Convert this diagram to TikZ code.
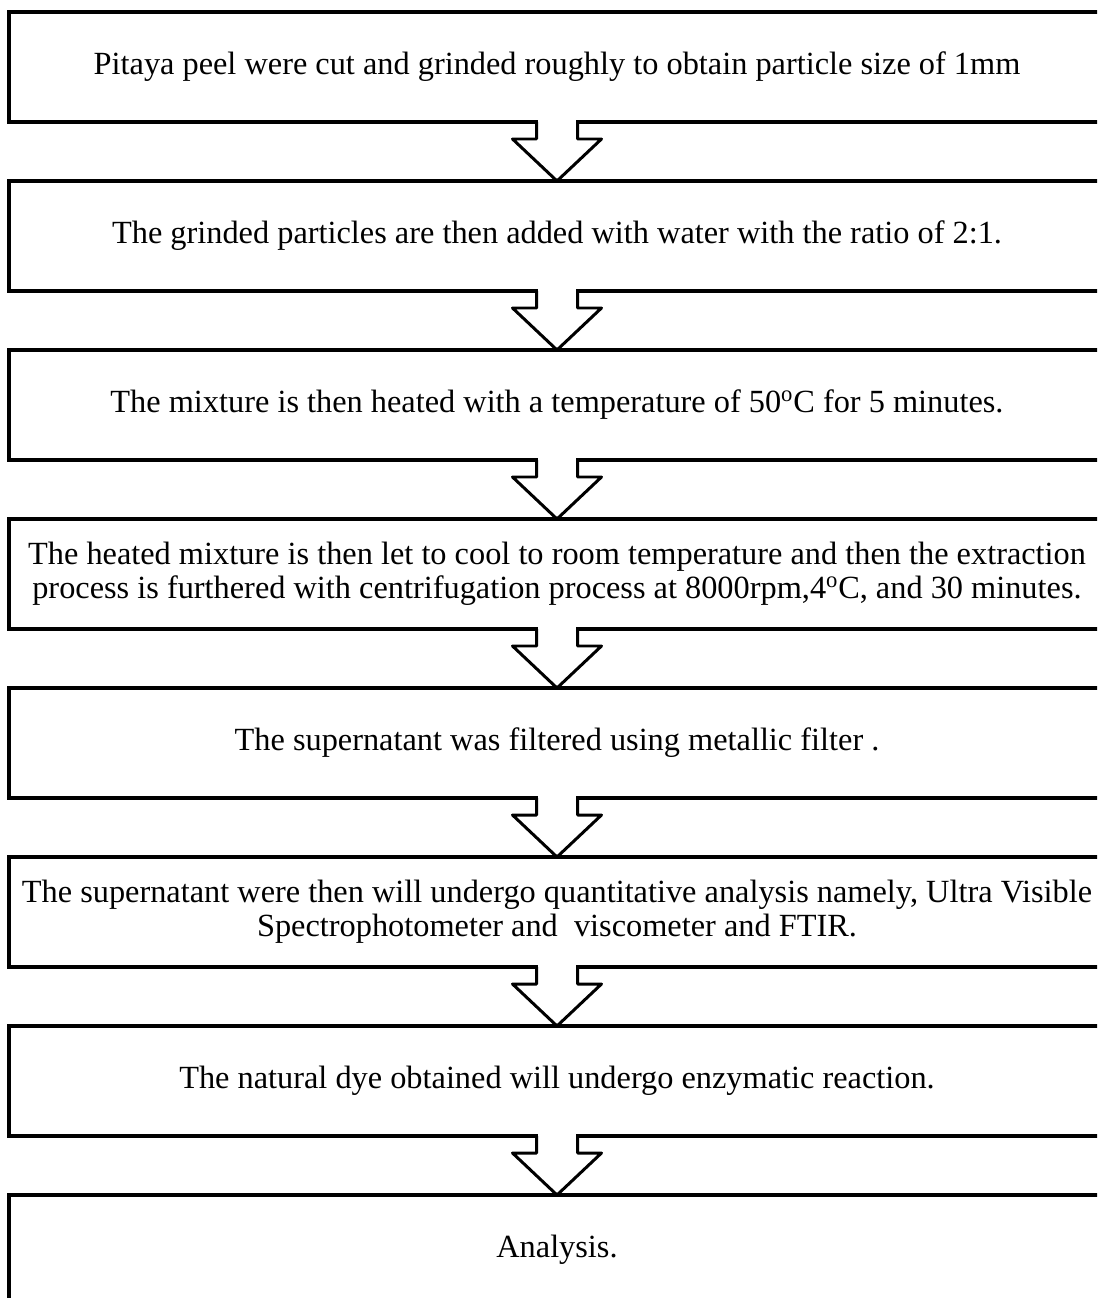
\documentclass[tikz,border=0pt]{standalone}
\usepackage{fontspec}
\setmainfont{Liberation Serif}
\tikzset{
    stagebox/.style={rectangle,draw,line width=2.3pt,minimum width=21.92cm,minimum height=2.2cm,align=center,outer sep=0pt,font=\fontsize{18.4}{19.3}\selectfont},
    flowarrow/.style={line width=1.7pt,line join=round}
}
\begin{document}
\begin{tikzpicture}
        \clip (0,0) rectangle (21.94,-25.96);
        \node[stagebox] at (11.14,-1.34) (s1) {Pitaya peel were cut and grinded roughly to obtain particle size of 1mm};
        \node[stagebox] at (11.14,-4.72) (s2) {The grinded particles are then added with water with the ratio of 2:1.};
        \node[stagebox] at (11.14,-8.10) (s3) {The mixture is then heated with a temperature of 50\textsuperscript{o}C for 5 minutes.};
        \node[stagebox] at (11.14,-11.48) (s4) {The heated mixture is then let to cool to room temperature and then the extraction\\process is furthered with centrifugation process at 8000rpm,4\textsuperscript{o}C, and 30 minutes.};
        \node[stagebox] at (11.14,-14.86) (s5) {The supernatant was filtered using metallic filter .};
        \node[stagebox] at (11.14,-18.24) (s6) {The supernatant were then will undergo quantitative analysis namely, Ultra Visible\\Spectrophotometer and\ \ viscometer and FTIR.};
        \node[stagebox] at (11.14,-21.62) (s7) {The natural dye obtained will undergo enzymatic reaction.};
        \node[stagebox] at (11.14,-25.00) (s8) {Analysis.};
        % block arrows between the steps
        \foreach \i [evaluate=\i as \j using int(\i+1)] in {1,...,7} {
            \fill[white] ([xshift=-0.38cm,yshift=0.1cm]s\i.south) rectangle ([xshift=0.38cm,yshift=-0.3cm]s\i.south);
            \draw[flowarrow] ([xshift=-0.41cm]s\i.south) -- ++(0,-0.34) -- ++(-0.48,0) -- (s\j.north) -- ([xshift=0.89cm,yshift=-0.34cm]s\i.south) -- ++(-0.48,0) -- ([xshift=0.41cm]s\i.south);
        }
\end{tikzpicture}
\end{document}
